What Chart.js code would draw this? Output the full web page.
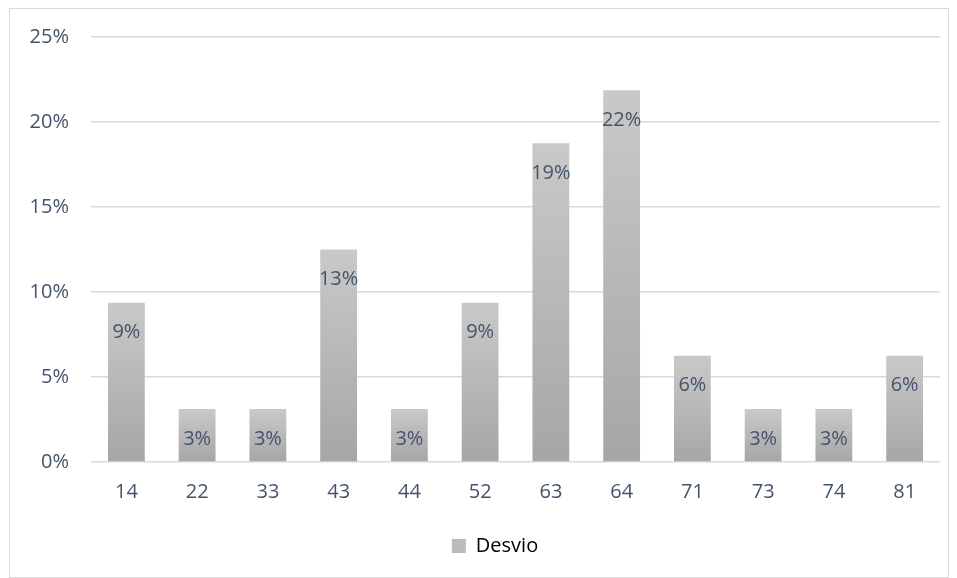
<!DOCTYPE html>
<html>
<head>
<meta charset="utf-8">
<script src="https://cdn.jsdelivr.net/npm/chart.js@4.4.1/dist/chart.umd.min.js"></script>
<style>
  html, body { margin: 0; padding: 0; background: #fff; }
  #box {
    position: absolute; left: 9px; top: 8px;
    width: 940px; height: 570px;
    box-sizing: border-box; border: 1px solid #D9D9D9;
  }
  #box canvas { display: block; }
</style>
</head>
<body>
<div id="box"><canvas id="desvioChart" width="938" height="568"></canvas></div>
<script>
// categorias e desvio (%)
const categorias = ['14', '22', '33', '43', '44', '52', '63', '64', '71', '73', '74', '81'];
const desvio = [9.375, 3.125, 3.125, 12.5, 3.125, 9.375, 18.75, 21.875, 6.25, 3.125, 3.125, 6.25];
const yTicks = [0, 5, 10, 15, 20, 25];

const textColor = '#44546A';
const fontFamily = '"Open Sans", "Liberation Sans", sans-serif';
const fontSize = 20;

// each bar gets its own light-to-dark vertical gradient
function barGradient(ctx) {
  const chart = ctx.chart;
  const y = chart.scales.y;
  if (!y || ctx.raw === undefined) return '#BBBBBB';
  const top = y.getPixelForValue(ctx.raw);
  const base = y.getPixelForValue(0);
  const g = chart.ctx.createLinearGradient(0, top, 0, base);
  g.addColorStop(0, '#C9C9C9');
  g.addColorStop(1, '#A6A6A6');
  return g;
}

// value labels just inside the top of each bar
const barLabels = {
  id: 'barLabels',
  afterLayout(chart) {
    // nudge the legend a bit to the right of the canvas centre
    if (chart.legend) chart.legend.left += 40;
  },
  afterDatasetsDraw(chart) {
    const c = chart.ctx;
    const meta = chart.getDatasetMeta(0);
    c.save();
    c.font = fontSize + 'px ' + fontFamily;
    c.fillStyle = textColor;
    c.textAlign = 'center';
    c.textBaseline = 'middle';
    meta.data.forEach((bar, i) => {
      c.fillText(Math.round(desvio[i]) + '%', bar.x, bar.y + 30);
    });
    c.restore();
  }
};

new Chart(document.getElementById('desvioChart'), {
  type: 'bar',
  data: {
    labels: categorias,
    datasets: [{
      label: 'Desvio',
      data: desvio,
      backgroundColor: barGradient,
      barPercentage: 0.52,
      categoryPercentage: 1
    }]
  },
  options: {
    responsive: false,
    animation: false,
    layout: { padding: { top: 28, right: 8, left: 0, bottom: 11 } },
    scales: {
      x: {
        grid: { display: false },
        border: { display: false },
        ticks: { color: textColor, font: { family: fontFamily, size: fontSize }, padding: 10 },
        afterFit(scale) { scale.height = 64; }
      },
      y: {
        min: 0,
        max: 25,
        afterBuildTicks(scale) { scale.ticks = yTicks.map(v => ({ value: v })); },
        // invisible tick marks keep the labels clear of the plot
        grid: { color: '#D9D9D9', lineWidth: 1.5, drawTicks: true, tickLength: 17, tickColor: 'rgba(0,0,0,0)' },
        border: { display: false },
        ticks: {
          color: textColor,
          font: { family: fontFamily, size: fontSize },
          padding: 5,
          callback: v => v + '%'
        },
        afterFit(scale) { scale.width = 81; }
      }
    },
    plugins: {
      tooltip: { enabled: false },
      legend: {
        position: 'bottom',
        labels: {
          color: textColor,
          font: { family: fontFamily, size: fontSize },
          boxWidth: 14,
          boxHeight: 14,
          padding: 10,
          generateLabels() {
            return [{ text: 'Desvio', fillStyle: '#BBBBBB', strokeStyle: '#BBBBBB', lineWidth: 0, datasetIndex: 0 }];
          }
        }
      }
    }
  },
  plugins: [barLabels]
});
</script>
</body>
</html>
